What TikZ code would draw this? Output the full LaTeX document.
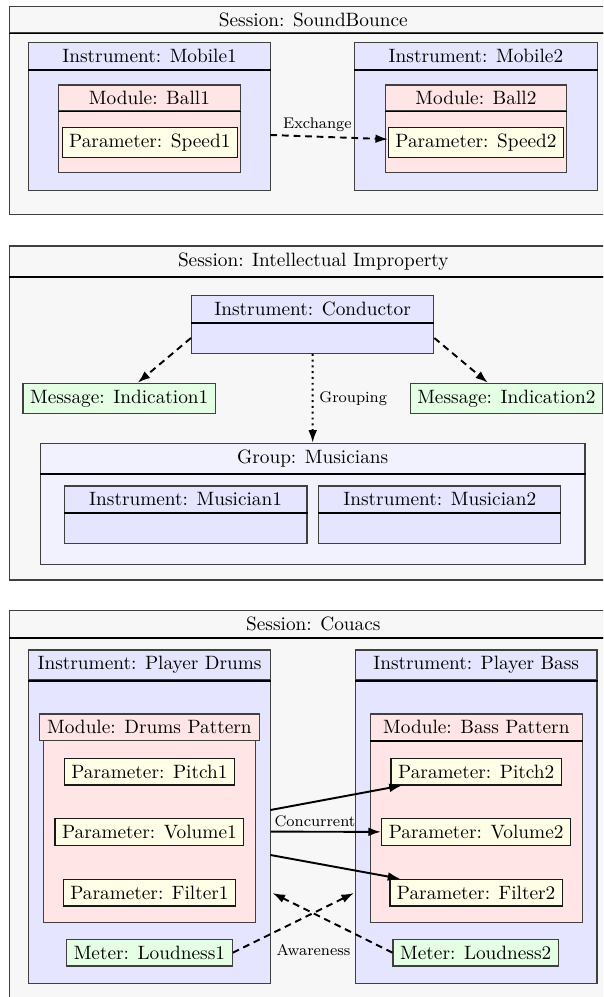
\documentclass[tikz,border=0pt]{standalone}
\usetikzlibrary{fit,arrows.meta}
\begin{document}
\begin{tikzpicture}[x=0.518pt,y=-0.518pt,
  frame/.style={draw=black!75, line width=0.55pt, inner sep=0pt},
  sess/.style={frame, fill=black!3},
  inst/.style={frame, fill=blue!10},
  grp/.style={frame, fill=blue!5},
  modl/.style={frame, fill=red!10},
  param/.style={frame, draw=black!90, fill=yellow!10},
  msg/.style={frame, fill=green!10},
  txt/.style={label={center:#1}},
  sep/.style={line width=1pt, draw=black},
  lbl/.style={font=\footnotesize, inner sep=2pt},
  conn/.style={-{Latex[length=6.5pt,width=4.5pt]}, line width=1pt},
  dsh/.style={dash pattern=on 3.5pt off 2.5pt},
  dtt/.style={dash pattern=on 1pt off 2pt}
]
\useasboundingbox (0,0) rectangle (603,997);
\begin{scope}
\clip (0,0) rectangle (603,997);
% ===== Section 1 =====
\node[sess, fit={(9.6,33)(617,214.5)}] (s1) {};
\node[sess, fit={(9.6,6.5)(617,33)}, txt={Session: SoundBounce}] (s1h) {};
\draw[sep] (s1h.south west) -- (s1h.south east);

\node[inst, fit={(28.8,69.3)(270.4,190.7)}] (mob1) {};
\node[inst, fit={(28.8,42.7)(270.4,69.3)}, txt={Instrument: Mobile1}] (mob1h) {};
\draw[sep] (mob1h.south west) -- (mob1h.south east);
\node[modl, fit={(58.5,111)(240.4,172.7)}] (ball1) {};
\node[modl, fit={(58.5,85)(240.4,111)}, txt={Module: Ball1}] (ball1h) {};
\draw[sep] (ball1h.south west) -- (ball1h.south east);
\node[param, fit={(62.3,127.3)(237.3,157.3)}, txt={Parameter: Speed1}] (sp1) {};

\node[inst, fit={(354.6,69.3)(597.3,190.7)}] (mob2) {};
\node[inst, fit={(354.6,42.7)(597.3,69.3)}, txt={Instrument: Mobile2}] (mob2h) {};
\draw[sep] (mob2h.south west) -- (mob2h.south east);
\node[modl, fit={(385.4,111)(566.5,172.7)}] (ball2) {};
\node[modl, fit={(385.4,85)(566.5,111)}, txt={Module: Ball2}] (ball2h) {};
\draw[sep] (ball2h.south west) -- (ball2h.south east);
\node[param, fit={(388.5,127.3)(563.5,157.3)}, txt={Parameter: Speed2}] (sp2) {};

\coordinate (ex1) at (270.4,135);
\draw[conn, dsh] (ex1) -- node[lbl, pos=0.4, above] (exl) {Exchange} (sp2);

% ===== Section 2 =====
\node[sess, fit={(9.6,276.7)(617,580)}] (s2) {};
\node[sess, fit={(9.6,246)(617,276.7)}, txt={Session: Intellectual Improperty}] (s2h) {};
\draw[sep] (s2h.south west) -- (s2h.south east);

\node[inst, fit={(191.5,322.7)(433.8,353.3)}] (cond) {};
\node[inst, fit={(191.5,295.3)(433.8,322.7)}, txt={Instrument: Conductor}] (condh) {};
\draw[sep] (condh.south west) -- (condh.south east);

\node[msg, fit={(23,383.3)(215.4,413.3)}, txt={Message: Indication1}] (ind1) {};
\node[msg, fit={(410.4,383.3)(602.4,413.3)}, txt={Message: Indication2}] (ind2) {};

\node[grp, fit={(40.4,473.3)(585,564.3)}] (grp) {};
\node[grp, fit={(40.4,443.3)(585,473.3)}, txt={Group: Musicians}] (grph) {};
\draw[sep] (grph.south west) -- (grph.south east);

\node[inst, fit={(64.2,512.7)(307,543.3)}] (mus1) {};
\node[inst, fit={(64.2,486)(307,512.7)}, txt={Instrument: Musician1}] (mus1h) {};
\draw[sep] (mus1h.south west) -- (mus1h.south east);
\node[inst, fit={(318.8,512.7)(560.8,543.3)}] (mus2) {};
\node[inst, fit={(318.8,486)(560.8,512.7)}, txt={Instrument: Musician2}] (mus2h) {};
\draw[sep] (mus2h.south west) -- (mus2h.south east);

\draw[conn, dsh] (cond.west) -- (ind1);
\draw[conn, dsh] (cond.east) -- (ind2);
\draw[conn, dtt] (cond.south) -- node[lbl, right, xshift=1pt] (grl) {Grouping} (grph.north);

% ===== Section 3 =====
\node[sess, fit={(9.6,637.7)(617,1010)}] (s3) {};
\node[sess, fit={(9.6,610.7)(617,637.7)}, txt={Session: Couacs}] (s3h) {};
\draw[sep] (s3h.south west) -- (s3h.south east);

\node[inst, fit={(28.8,680)(270.4,983.3)}] (drums) {};
\node[inst, fit={(28.8,650)(270.4,680)}, txt={Instrument: Player Drums}] (drumsh) {};
\draw[sep] (drumsh.south west) -- (drumsh.south east);
\node[modl, fit={(43.5,740.7)(255.8,922.7)}] (dpat) {};
\node[modl, fit={(39.2,714)(259.6,740.7)}, txt={Module: Drums Pattern}] (dpath) {};
\node[param, fit={(64.2,758.3)(234.6,785)}, txt={Parameter: Pitch1}] (pitch1) {};
\node[param, fit={(55,818.7)(243.8,845.3)}, txt={Parameter: Volume1}] (vol1) {};
\node[param, fit={(63.5,879.3)(235.4,906)}, txt={Parameter: Filter1}] (filt1) {};
\node[msg, fit={(66.5,939.3)(232.3,966)}, txt={Meter: Loudness1}] (loud1) {};

\node[inst, fit={(355.4,680)(597,983.3)}] (bass) {};
\node[inst, fit={(355.4,650)(597,680)}, txt={Instrument: Player Bass}] (bassh) {};
\draw[sep] (bassh.south west) -- (bassh.south east);
\node[modl, fit={(370.4,740.7)(582.3,922.7)}] (bpat) {};
\node[modl, fit={(370.4,714)(582.3,740.7)}, txt={Module: Bass Pattern}] (bpath) {};
\draw[sep] (bpath.south west) -- (bpath.south east);
\node[param, fit={(391,758.3)(561.5,785)}, txt={Parameter: Pitch2}] (pitch2) {};
\node[param, fit={(381.5,818.7)(570.8,845.3)}, txt={Parameter: Volume2}] (vol2) {};
\node[param, fit={(390,879.3)(562.3,906)}, txt={Parameter: Filter2}] (filt2) {};
\node[msg, fit={(393,939.3)(558.5,966)}, txt={Meter: Loudness2}] (loud2) {};

\coordinate (c1) at (270.4,810);
\coordinate (c3) at (270.4,855);
\draw[conn] (c1) -- (pitch2);
\draw[conn] (drums.east) -- node[lbl, pos=0.4, above] (conl) {Concurrent} (vol2);
\draw[conn] (c3) -- (filt2);

\coordinate (aw1) at (354,893);
\coordinate (aw2) at (272.5,893);
\draw[conn, dsh] (loud1.east) -- (aw1);
\draw[conn, dsh] (loud2.west) -- (aw2);
\node[lbl] (awl) at (313.5,950) {Awareness};
\end{scope}
\end{tikzpicture}
\end{document}
